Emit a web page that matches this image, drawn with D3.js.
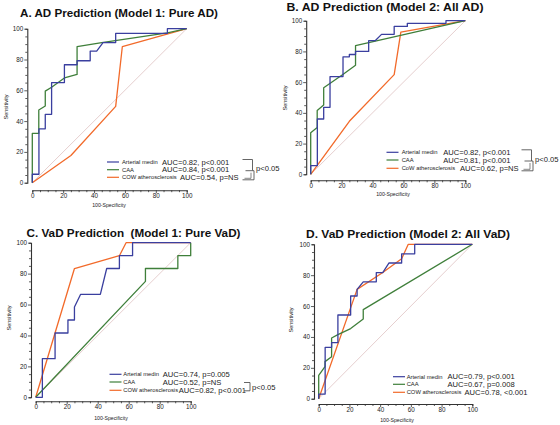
<!DOCTYPE html>
<html><head><meta charset="utf-8">
<script src="https://cdn.jsdelivr.net/npm/d3@7"></script>
<style>body{margin:0;background:#fff}svg{display:block;font-family:"Liberation Sans",Arial,sans-serif}text{white-space:pre}</style>
</head><body><svg id="c" width="560" height="425"></svg>
<script>
// ---------- DATA ----------
const seriesNames = ["Arterial medin", "CAA", "COW atherosclerosis"];
const seriesNamesB = ["Arterial medin", "CAA", "CoW atherosclerosis"];
const titles = ["A. AD Prediction (Model 1: Pure AD)", "B. AD Prediction (Model 2: All AD)",
                "C. VaD Prediction  (Model 1: Pure VaD)", "D. VaD Prediction (Model 2: All VaD)"];
const aucA = ["AUC=0.82, p<0.001", "AUC=0.84, p<0.001", "AUC=0.54, p=NS"];
const aucB = ["AUC=0.82, p<0.001", "AUC=0.81, p<0.001", "AUC=0.62, p=NS"];
const aucC = ["AUC=0.74, p=0.005", "AUC=0.52, p=NS", "AUC=0.82, p<0.001"];
const aucD = ["AUC=0.79, p<0.001", "AUC=0.67, p=0.008", "AUC=0.78, <0.001"];
const tickValues = [0, 20, 40, 60, 80, 100];
const xLabel = "100-Specificity", yLabel = "Sensitivity", pLabel = "p<0.05";

// ROC points [100-Specificity, Sensitivity]
const A_medin = [[0,0],[0,5.5],[4.3,5.5],[4.3,35],[8.4,35],[8.4,44.4],[12.5,44.4],[12.5,65],[16.6,65],[20.8,65],[20.8,76.6],[29,76.6],[29,79.2],[37.5,79.2],[37.5,85.5],[41.7,85.5],[45.8,91],[54,91],[54,97],[87.5,97],[87.5,100],[100,100]];
const A_caa = [[0,0],[0,32],[4.2,32],[4.2,47.2],[8.4,49.8],[8.4,59.5],[12.5,62],[20.8,68],[29,70.3],[29,88.3],[45,91],[87.5,97.3],[100,100]];
const A_cow = [[0,0],[25,17.7],[54,49.6],[58.3,88.3],[100,100]];

const B_medin = [[0,0],[0,5.6],[4.3,5.6],[4.3,36],[8.4,36],[8.4,43.6],[12.5,43.6],[12.5,63.6],[20.9,63.6],[20.9,76.5],[25,76.5],[25,78],[29,78],[29,80],[37.5,80],[37.5,87],[41.7,87],[45.8,91.1],[54,91.1],[54,96.3],[62.5,96.3],[62.5,98.3],[87.5,98.3],[87.5,100],[100,100]];
const B_caa = [[0,0],[0,27],[4.2,30.4],[4.2,41.6],[8.4,45.1],[8.4,56.4],[20.8,65],[29,71],[29,83.7],[100,100]];
const B_cow = [[0,0],[25,34.5],[54,64.9],[58.3,92.6],[100,100]];

const C_medin = [[0,0],[4.3,0],[4.3,25],[12.5,25],[12.5,41.6],[20.8,41.6],[20.8,50],[25,50],[25,58.4],[29,66.6],[41.7,66.6],[45.8,83.3],[54,83.3],[54,91.6],[62.5,91.6],[62.5,100],[100,100]];
const C_caa = [[0,0],[70.8,75],[70.8,83.3],[91.7,83.3],[91.7,91.6],[100,91.6],[100,100]];
const C_cow = [[0,0],[25,83.3],[54,91.6],[58.3,100],[100,100]];

const D_medin = [[0,0],[0,3],[4.2,3],[4.2,33.3],[8.4,33.3],[8.4,36.3],[12.5,36.3],[12.5,54.2],[20.8,54.2],[20.8,66.5],[25,66.5],[25,70.8],[29,75.7],[37.5,75.7],[37.5,81.7],[41.7,81.7],[45.8,87.9],[54,87.9],[54,93.8],[62.5,93.8],[62.5,100],[100,100]];
const D_caa = [[0,0],[0,15.1],[4.1,20.7],[4.1,24],[8.4,27.2],[8.4,39.3],[12.5,41.5],[20.8,45.4],[29,51.6],[29,57.7],[100,100]];
const D_cow = [[0,0],[25,70.8],[41.7,81.7],[54,90.6],[58.3,100],[100,100]];

// ---------- STYLE / LAYOUT ----------
const colors = ["#3a3f9f", "#3f7f3a", "#f26a2a"];
const diagColor = "#e6cfcf";
const axisColor = "#333";

const panels = [
  {title: titles[0], tx: 20, ty: 17, tw: 198, x0: 32.3, x1: 186.7, yT: 28.7, yB: 182.7, offX: 5, offY: 7.5,
   series: [A_medin, A_caa, A_cow], names: seriesNames, auc: aucA,
   lg: {lx: 107, nx: 122, ax: [162, 162, 180], ry: [162, 169.7, 177.3]}, xl: {x: 109, y: 206.5}, yl: {x: 6, y: 107},
   bracket: "both", bx: 242.5, px: 256, py: 168},
  {title: titles[1], tx: 286.5, ty: 11, tw: 197, x0: 310.7, x1: 465.3, yT: 20.7, yB: 174.3, offX: 4.5, offY: 6,
   series: [B_medin, B_caa, B_cow], names: seriesNamesB, auc: aucB,
   lg: {lx: 386.5, nx: 401.7, ax: [443.3, 443.3, 460], ry: [152.3, 160, 168.3]}, xl: {x: 393, y: 196}, yl: {x: 285, y: 98},
   bracket: "both", bx: 521.5, px: 535, py: 159},
  {title: titles[2], tx: 26.5, ty: 237, tw: 214, x0: 35.7, x1: 190.7, yT: 242.7, yB: 397.3, offX: 4.7, offY: 4,
   series: [C_medin, C_caa, C_cow], names: seriesNames, auc: aucC,
   lg: {lx: 109.5, nx: 123.3, ax: [162.7, 162.7, 178.8], ry: [374.3, 382, 390.3]}, xl: {x: 111, y: 420}, yl: {x: 9, y: 318},
   bracket: "lower", bx: 244, px: 252, py: 387},
  {title: titles[3], tx: 306, ty: 237.5, tw: 204, x0: 318.7, x1: 472.3, yT: 244.3, yB: 398.7, offX: 4.7, offY: 5.3,
   series: [D_medin, D_caa, D_cow], names: seriesNames, auc: aucD,
   lg: {lx: 393, nx: 406.7, ax: [447.5, 447.5, 464.5], ry: [376.7, 384.3, 392.3]}, xl: {x: 397, y: 421.5}, yl: {x: 291, y: 320},
   bracket: "none"}
];

const svg = d3.select("#c");

panels.forEach(p => {
  const g = svg.append("g");
  const x = d3.scaleLinear().domain([0, 100]).range([p.x0, p.x1]);
  const y = d3.scaleLinear().domain([0, 100]).range([p.yB, p.yT]);

  // title
  g.append("text").attr("x", p.tx).attr("y", p.ty).attr("font-size", 11.6).attr("font-weight", "bold")
    .attr("textLength", p.tw).attr("lengthAdjust", "spacingAndGlyphs").attr("fill", "#111").text(p.title);

  // axes
  const minorTicks = d3.range(0, 101, 5);
  const xAxis = d3.axisBottom(x).tickValues(minorTicks).tickSize(2).tickPadding(1.5)
    .tickFormat(d => tickValues.includes(d) ? d : "");
  const yAxis = d3.axisLeft(y).tickValues(minorTicks).tickSize(2).tickPadding(2)
    .tickFormat(d => tickValues.includes(d) ? d : "");
  const gx = g.append("g").attr("transform", `translate(0,${p.yB + p.offY})`).call(xAxis);
  const gy = g.append("g").attr("transform", `translate(${p.x0 - p.offX},0)`).call(yAxis);
  [gx, gy].forEach(ax => {
    ax.select(".domain").attr("stroke", axisColor).attr("stroke-width", 1.1);
    ax.selectAll(".tick line").attr("stroke", axisColor).attr("stroke-width", 0.8);
    ax.selectAll("text").attr("font-size", 6.3).attr("fill", "#222").attr("font-family", "Liberation Sans, Arial, sans-serif");
  });
  gx.selectAll(".tick").filter(d => tickValues.includes(d)).select("line").attr("y2", 3);
  gy.selectAll(".tick").filter(d => tickValues.includes(d)).select("line").attr("x2", -3);
  gx.selectAll("text").attr("dy", "0.7em");

  // axis labels
  g.append("text").attr("x", p.xl.x).attr("y", p.xl.y).attr("text-anchor", "middle")
    .attr("font-size", 5.2).attr("fill", "#222").text(xLabel);
  g.append("text").attr("transform", `translate(${p.yl.x},${p.yl.y}) rotate(-90)`).attr("text-anchor", "middle")
    .attr("dy", "0.35em").attr("font-size", 5.6).attr("fill", "#222").text(yLabel);

  // diagonal
  g.append("line").attr("x1", x(0)).attr("y1", y(0)).attr("x2", x(100)).attr("y2", y(100))
    .attr("stroke", diagColor).attr("stroke-width", 1);

  // curves
  const line = d3.line().x(d => x(d[0])).y(d => y(d[1]));
  [2, 1, 0].forEach(i => {
    g.append("path").attr("d", line(p.series[i])).attr("fill", "none")
      .attr("stroke", colors[i]).attr("stroke-width", 1.3).attr("stroke-linejoin", "round");
  });

  // legend
  p.names.forEach((n, i) => {
    const ry = p.lg.ry[i];
    g.append("line").attr("x1", p.lg.lx).attr("x2", p.lg.lx + 12).attr("y1", ry).attr("y2", ry)
      .attr("stroke", colors[i]).attr("stroke-width", 1.2);
    g.append("text").attr("x", p.lg.nx).attr("y", ry).attr("dy", "0.35em").attr("font-size", 5.8)
      .attr("fill", "#222").text(n);
    g.append("text").attr("x", p.lg.ax[i]).attr("y", ry).attr("dy", "0.35em").attr("font-size", 7.6)
      .attr("fill", "#222").text(p.auc[i]);
  });

  // brackets
  const r = p.lg.ry;
  const br = (d, w) => g.append("path").attr("d", d).attr("fill", "none").attr("stroke", "#555").attr("stroke-width", w || 0.9);
  const b = p.bx;
  if (p.bracket === "both") {
    br(`M${b},${r[0]-2.5} H${b+10} V${r[1]+1} H${b+3}`);
    br(`M${b+10},${r[1]+1} H${b+11.5} V${r[2]+2.5} H${b}`);
    br(`M${b+2},${r[2]+1} H${b+8.5} V${r[1]+3}`, 0.7);
    g.append("text").attr("x", p.px).attr("y", p.py).attr("dy", "0.35em").attr("font-size", 7.6)
      .attr("fill", "#222").text(pLabel);
  } else if (p.bracket === "lower") {
    br(`M${b},${r[1]+0.5} H${b+6} V${r[2]+0.5} H${b}`);
    g.append("text").attr("x", p.px).attr("y", p.py).attr("dy", "0.35em").attr("font-size", 7.6)
      .attr("fill", "#222").text(pLabel);
  }
});
</script></body></html>
